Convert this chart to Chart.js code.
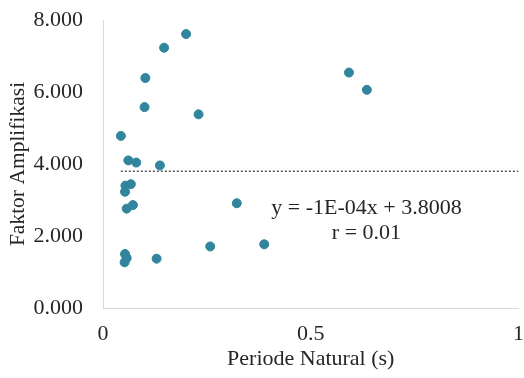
<!DOCTYPE html>
<html>
<head>
<meta charset="utf-8">
<script src="https://cdn.jsdelivr.net/npm/chart.js@4"></script>
<style>
    html, body { margin: 0; padding: 0; background: #fff; }
    #wrap { width: 524px; height: 378px; }
</style>
</head>
<body>
<div id="wrap"><canvas id="grafico"></canvas></div>
<script>
// datos
const periode = [0.200, 0.147, 0.102, 0.100, 0.230, 0.043, 0.061, 0.080, 0.137, 0.054, 0.067, 0.053,
                 0.072, 0.057, 0.322, 0.053, 0.057, 0.052, 0.129, 0.258, 0.388, 0.592, 0.635];
const faktor  = [7.61, 7.23, 6.39, 5.58, 5.38, 4.78, 4.10, 4.04, 3.96, 3.40, 3.44, 3.23,
                 2.86, 2.76, 2.91, 1.50, 1.39, 1.27, 1.37, 1.71, 1.77, 6.54, 6.06];
const xTicks = [0, 0.5, 1];
const yTicks = [0, 2, 4, 6, 8];
const pendiente = -1e-4;
const intercepto = 3.8008;
const textoEcuacion = ['y = -1E-04x + 3.8008', 'r = 0.01'];

const fuente = '"Liberation Serif", "Times New Roman", serif';
const colorTexto = '#262626';

const puntos = periode.map((x, i) => ({ x: x, y: faktor[i] }));
const xMin = Math.min(...periode);
const xMax = xTicks[xTicks.length - 1];
const tendencia = [xMin, xMax].map((x) => ({ x: x, y: pendiente * x + intercepto }));

/* texto de la ecuacion */
const ecuacion = {
    id: 'ecuacion',
    afterDatasetsDraw(chart) {
        const { ctx, scales } = chart;
        ctx.save();
        ctx.font = '22px ' + fuente;
        ctx.fillStyle = colorTexto;
        ctx.textAlign = 'center';
        ctx.textBaseline = 'middle';
        const cx = scales.x.getPixelForValue(0.634);
        ctx.fillText(textoEcuacion[0], cx, scales.y.getPixelForValue(2.78));
        ctx.fillText(textoEcuacion[1], cx, scales.y.getPixelForValue(2.08));
        ctx.restore();
    }
};

let canvasGrafico = document.getElementById('grafico');

let chartGrafico = new Chart(canvasGrafico, {
    type: 'scatter',
    data: {
        datasets: [
            {
                label: 'Data',
                data: puntos,
                backgroundColor: '#31859c',
                borderColor: '#31859c',
                pointRadius: 4.5,
                pointHoverRadius: 4.5
            },
            {
                label: 'Trendline',
                data: tendencia,
                type: 'line',
                showLine: true,
                borderColor: '#000',
                borderWidth: 1,
                borderDash: [2, 2],
                pointRadius: 0,
                fill: false
            }
        ]
    },
    options: {
        responsive: true,
        maintainAspectRatio: false,
        animation: false,
        layout: { padding: { top: 20, right: 3, left: 0, bottom: 0 } },
        plugins: {
            legend: { display: false },
            tooltip: { enabled: false }
        },
        scales: {
            x: {
                type: 'linear',
                min: 0,
                max: 1,
                afterFit: (s) => {
                    s.height = 70;
                    s.paddingLeft = 0;
                    s.paddingRight = 0;
                },
                afterBuildTicks: (s) => { s.ticks = xTicks.map((v) => ({ value: v })); },
                grid: { drawOnChartArea: false, drawTicks: false },
                border: { display: true, color: '#d9d9d9', width: 1 },
                ticks: {
                    padding: 13,
                    color: colorTexto,
                    font: { family: fuente, size: 22 },
                    callback: (v) => String(v)
                },
                title: {
                    display: true,
                    text: 'Periode Natural (s)',
                    color: colorTexto,
                    font: { family: fuente, size: 22 },
                    padding: { top: 0, bottom: 6 }
                }
            },
            y: {
                min: 0,
                max: 8,
                afterFit: (s) => {
                    s.width = 103;
                    s.paddingTop = 0;
                    s.paddingBottom = 0;
                },
                afterBuildTicks: (s) => { s.ticks = yTicks.map((v) => ({ value: v })); },
                grid: { drawOnChartArea: false, drawTicks: false },
                border: { display: true, color: '#d9d9d9', width: 1 },
                ticks: {
                    padding: 20,
                    color: colorTexto,
                    font: { family: fuente, size: 22 },
                    callback: (v) => Number(v).toFixed(3)
                },
                title: {
                    display: true,
                    text: 'Faktor Amplifikasi',
                    color: colorTexto,
                    font: { family: fuente, size: 21.5 },
                    padding: { top: 5, bottom: 0 }
                }
            }
        }
    },
    plugins: [ecuacion]
});
</script>
</body>
</html>
